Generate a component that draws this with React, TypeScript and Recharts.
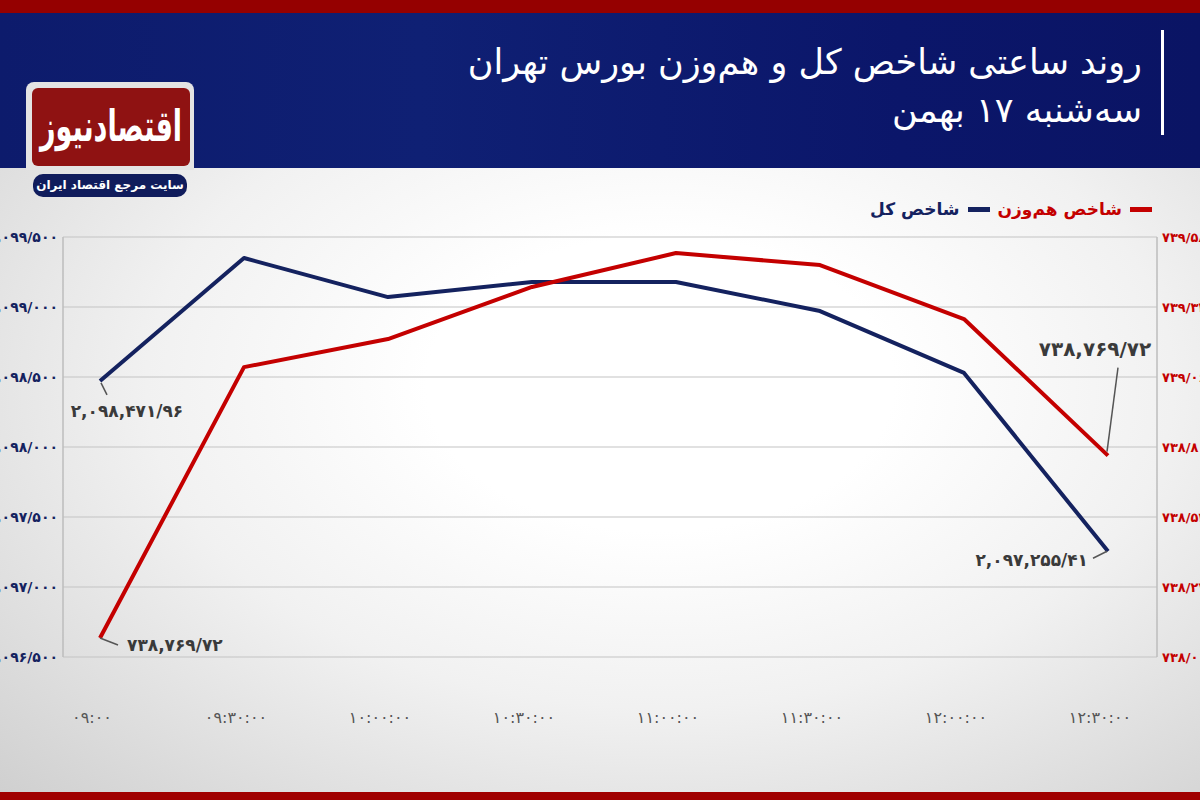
import { CartesianGrid, Line, LineChart, XAxis, YAxis } from "recharts";

const times = ["09:00", "09:30:00", "10:00:00", "10:30:00", "11:00:00", "11:30:00", "12:00:00", "12:30:00"];
const shakhesKol = [2098471.96, 2099350, 2099071, 2099179, 2099179, 2098971, 2098529, 2097255.41];
const hamVazn = [738087, 739101, 739206, 739401, 739528, 739483, 739281, 738769.72];
const leftTicks = [2096500, 2097000, 2097500, 2098000, 2098500, 2099000, 2099500];
const rightTicks = [738016, 738278, 738540, 738802, 739064, 739326, 739588];
// the source chart prints the same text on both ends of the red line
const hamVaznLabels = ["738,769.72", "738,769.72"];

const FONT = "'DejaVu Sans', sans-serif";
const NAVY = "#14225f";
const RED = "#c40000";

const fa = (s: string) => s.replace(/[0-9]/g, (d) => "۰۱۲۳۴۵۶۷۸۹"[Number(d)]);

// axis style: thousands with ",", last group with "/"
function axisNum(n: number): string {
  const s = Math.round(n).toLocaleString("en-US");
  const i = s.lastIndexOf(",");
  return fa(s.slice(0, i) + "/" + s.slice(i + 1));
}

// label style: thousands with ",", decimals with "/"
function labelNum(s: string): string {
  return fa(s.replace(".", "/"));
}

const withCommas = (n: number) => n.toFixed(2).replace(/\B(?=(\d{3})+(?!\d))/g, ",");

const data = times.map((t, i) => ({ time: t, kol: shakhesKol[i], ham: hamVazn[i] }));

function XTick({ x, y, payload }: any) {
  return (
    <text x={x - 8} y={y + 58} textAnchor="middle" fill="#555" fontSize={16} fontFamily={FONT}>
      {fa(payload.value)}
    </text>
  );
}

function KolLabel({ x, y, index }: any) {
  const last = data.length - 1;
  if (index === 0) {
    return (
      <g>
        <line x1={x + 1} y1={y + 2} x2={x + 7} y2={y + 14} stroke="#555" strokeWidth={1.5} />
        <text x={x + 27} y={y + 36} textAnchor="middle" fill="#3a3a3a" fontSize={17} fontWeight="bold" fontFamily={FONT}>
          {labelNum(withCommas(shakhesKol[0]))}
        </text>
      </g>
    );
  }
  if (index === last) {
    return (
      <g>
        <line x1={x - 1} y1={y} x2={x - 15} y2={y + 7} stroke="#555" strokeWidth={1.5} />
        <text x={x - 20} y={y + 15} textAnchor="end" fill="#3a3a3a" fontSize={17} fontWeight="bold" fontFamily={FONT}>
          {labelNum(withCommas(shakhesKol[last]))}
        </text>
      </g>
    );
  }
  return null;
}

function HamLabel({ x, y, index }: any) {
  const last = data.length - 1;
  if (index === 0) {
    return (
      <g>
        <line x1={x} y1={y} x2={x + 18} y2={y + 7} stroke="#555" strokeWidth={1.5} />
        <text x={x + 27} y={y + 13} textAnchor="start" fill="#3a3a3a" fontSize={17} fontWeight="bold" fontFamily={FONT}>
          {labelNum(hamVaznLabels[0])}
        </text>
      </g>
    );
  }
  if (index === last) {
    return (
      <g>
        <line x1={x - 1} y1={y - 4} x2={x + 10} y2={y - 88} stroke="#555" strokeWidth={1.5} />
        <text x={x - 13} y={y - 100} textAnchor="middle" fill="#3a3a3a" fontSize={20} fontWeight="bold" fontFamily={FONT}>
          {labelNum(hamVaznLabels[1])}
        </text>
      </g>
    );
  }
  return null;
}

export default function App() {
  return (
    <div
      style={{
        position: "absolute",
        left: 0,
        top: 0,
        width: 1200,
        height: 800,
        overflow: "hidden",
        fontFamily: FONT,
        background: "radial-gradient(ellipse at 55% 48%, #ffffff 25%, #f1f1f1 55%, #cfcfcf 100%)",
      }}
    >
      <div style={{ position: "absolute", left: 0, top: 0 }}>
        <LineChart width={1200} height={800} data={data} margin={{ top: 237, right: 0, bottom: 63, left: 0 }}>
          <CartesianGrid yAxisId="left" vertical={false} stroke="#c4c4c4" strokeWidth={1.2} />
          <XAxis
            dataKey="time"
            height={80}
            axisLine={false}
            tickLine={false}
            padding={{ left: 37, right: 49 }}
            tick={<XTick />}
            interval={0}
          />
          <YAxis
            yAxisId="left"
            width={63}
            domain={[2096500, 2099500]}
            ticks={leftTicks}
            tickFormatter={axisNum}
            axisLine={{ stroke: "#bdbdbd", strokeWidth: 1.5 }}
            tickLine={false}
            tickSize={0}
            tickMargin={5}
            tick={{ fill: NAVY, fontSize: 14, fontWeight: "bold", fontFamily: FONT }}
          />
          <YAxis
            yAxisId="right"
            orientation="right"
            width={43}
            domain={[738016, 739588]}
            ticks={rightTicks}
            tickFormatter={axisNum}
            axisLine={{ stroke: "#bdbdbd", strokeWidth: 1.5 }}
            tickLine={false}
            tickSize={0}
            tickMargin={5}
            tick={{ fill: RED, fontSize: 13, fontWeight: "bold", fontFamily: FONT }}
          />
          <Line
            yAxisId="left"
            dataKey="kol"
            stroke={NAVY}
            strokeWidth={4}
            dot={false}
            strokeLinejoin="round"
            isAnimationActive={false}
            label={<KolLabel />}
          />
          <Line
            yAxisId="right"
            dataKey="ham"
            stroke={RED}
            strokeWidth={4}
            dot={false}
            strokeLinejoin="round"
            isAnimationActive={false}
            label={<HamLabel />}
          />
        </LineChart>
      </div>

      {/* top and bottom bands */}
      <div style={{ position: "absolute", left: 0, top: 0, width: 1200, height: 13, background: "#950000" }} />
      <div style={{ position: "absolute", left: 0, top: 792, width: 1200, height: 8, background: "#a00000" }} />

      {/* header */}
      <div
        style={{
          position: "absolute",
          left: 0,
          top: 13,
          width: 1200,
          height: 155,
          background: "linear-gradient(90deg, #0d1b6c 0%, #0f2074 35%, #0b166a 75%, #0a1464 100%)",
        }}
      />
      <div
        dir="rtl"
        style={{
          position: "absolute",
          right: 58,
          top: 38,
          color: "#fff",
          fontSize: 35,
          lineHeight: "48px",
          textAlign: "right",
          whiteSpace: "nowrap",
        }}
      >
        <div>روند ساعتی شاخص کل و هم‌وزن بورس تهران</div>
        <div>سه‌شنبه ۱۷ بهمن</div>
      </div>
      <div style={{ position: "absolute", left: 1161, top: 30, width: 3, height: 105, background: "#fff" }} />

      {/* logo */}
      <div
        style={{
          position: "absolute",
          left: 26,
          top: 82,
          width: 168,
          height: 88,
          background: "#e4e4e4",
          borderRadius: "8px 8px 0 0",
        }}
      />
      <div
        style={{
          position: "absolute",
          left: 32,
          top: 88,
          width: 158,
          height: 78,
          background: "#8f1212",
          borderRadius: 6,
          overflow: "hidden",
        }}
      >
        <div
          dir="rtl"
          style={{
            color: "#fff",
            fontSize: 27,
            fontWeight: "bold",
            textAlign: "center",
            lineHeight: "78px",
            transform: "scale(1, 1.6)",
          }}
        >
          اقتصادنیوز
        </div>
      </div>
      <div
        dir="rtl"
        style={{
          position: "absolute",
          left: 33,
          top: 174,
          width: 154,
          height: 23,
          background: "#101c5c",
          borderRadius: 10,
          color: "#fff",
          fontSize: 12,
          fontWeight: "bold",
          textAlign: "center",
          lineHeight: "23px",
        }}
      >
        سایت مرجع اقتصاد ایران
      </div>

      {/* legend */}
      <div
        dir="rtl"
        style={{
          position: "absolute",
          right: 48,
          top: 199,
          display: "flex",
          alignItems: "center",
          fontSize: 17,
          fontWeight: "bold",
          whiteSpace: "nowrap",
        }}
      >
        <span style={{ width: 22, height: 5, background: RED, display: "inline-block", marginLeft: 8 }} />
        <span style={{ color: RED }}>شاخص هم‌وزن</span>
        <span style={{ width: 22, height: 5, background: NAVY, display: "inline-block", margin: "0 8px 0 8px" }} />
        <span style={{ color: NAVY }}>شاخص کل</span>
      </div>
    </div>
  );
}
